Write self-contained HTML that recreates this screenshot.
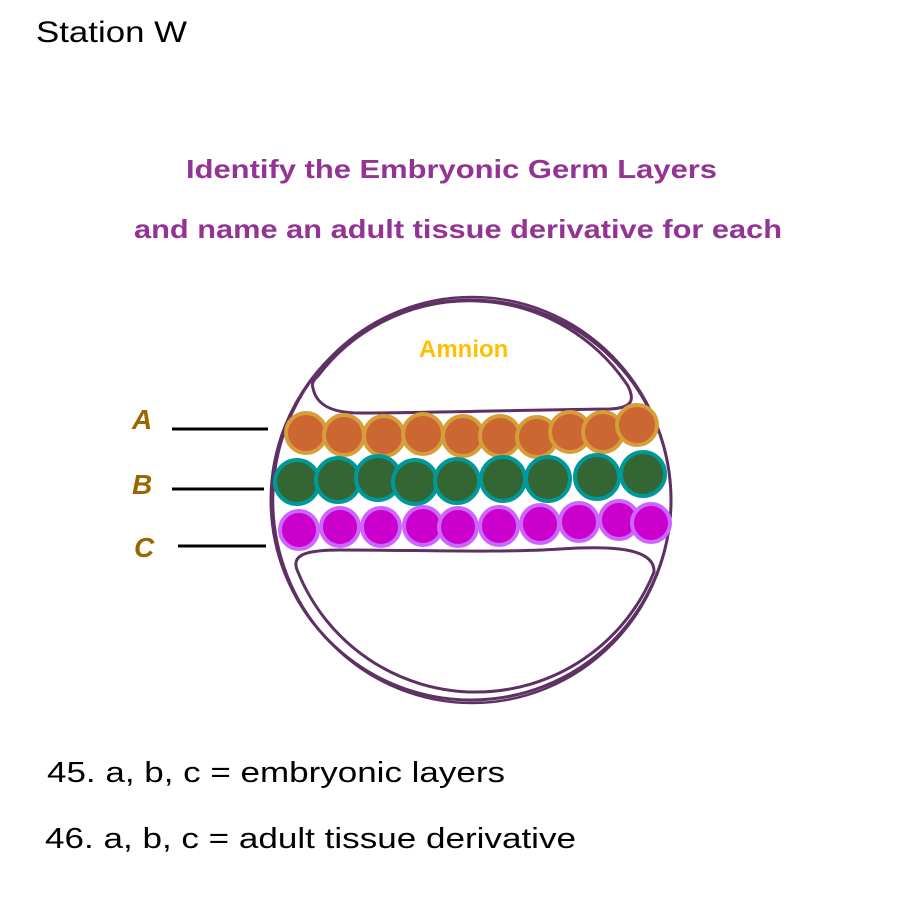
<!DOCTYPE html>
<html><head><meta charset="utf-8"><style>html,body{margin:0;padding:0;background:#fff}</style></head>
<body>
<svg width="900" height="900" viewBox="0 0 900 900" xmlns="http://www.w3.org/2000/svg">
<rect width="900" height="900" fill="#fff"/>
<text x="36" y="42" font-family="Liberation Sans, sans-serif" font-size="30" fill="#000" textLength="151" lengthAdjust="spacingAndGlyphs">Station W</text>
<g font-family="Liberation Sans, sans-serif" font-weight="bold" font-size="26" fill="#933393">
<text x="186" y="178" textLength="531" lengthAdjust="spacingAndGlyphs">Identify the Embryonic Germ Layers</text>
<text x="134" y="238" textLength="648" lengthAdjust="spacingAndGlyphs">and name an adult tissue derivative for each</text>
</g>
<g fill="none" stroke="#5e3063" stroke-width="3">
<circle cx="471" cy="500" r="200"/>
<ellipse cx="472" cy="500" rx="199" ry="203" stroke-width="2.5"/>
<path d="M313,388 C311,383 314,380 318,376 A190,190 0 0 1 628,386 C636,402 630,408 610,409 C520,410 420,413 360,413 C330,413 316,404 313,388 Z"/>
<path d="M298,572 C290,555 305,550 340,550 C420,550 500,553 560,549 C620,545 655,550 654,572 A192,192 0 0 1 298,572 Z"/>
</g>
<text x="419" y="357" font-family="Liberation Sans, sans-serif" font-weight="bold" font-size="24" fill="#ffc000">Amnion</text>
<g fill="#cc6633" stroke="#d69e38" stroke-width="4">
<circle cx="306" cy="433" r="20"/><circle cx="344" cy="435" r="20"/><circle cx="384" cy="436" r="20"/><circle cx="423" cy="434" r="20"/><circle cx="463" cy="436" r="20"/><circle cx="500" cy="436" r="20"/><circle cx="537" cy="437" r="20"/><circle cx="570" cy="432" r="20"/><circle cx="603" cy="432" r="20"/><circle cx="637" cy="425" r="20"/>
</g>
<g fill="#336633" stroke="#009999" stroke-width="4">
<circle cx="297" cy="482" r="22"/><circle cx="338" cy="480" r="22"/><circle cx="378" cy="478" r="22"/><circle cx="415" cy="482" r="22"/><circle cx="457" cy="481" r="22"/><circle cx="503" cy="479" r="22"/><circle cx="548" cy="479" r="22"/><circle cx="597" cy="477" r="22"/><circle cx="643" cy="474" r="22"/>
</g>
<g fill="#cc00cc" stroke="#cc66ff" stroke-width="4">
<circle cx="299" cy="530" r="19"/><circle cx="340" cy="527" r="19"/><circle cx="381" cy="527" r="19"/><circle cx="423" cy="526" r="19"/><circle cx="458" cy="527" r="19"/><circle cx="499" cy="526" r="19"/><circle cx="540" cy="524" r="19"/><circle cx="579" cy="522" r="19"/><circle cx="619" cy="520" r="19"/><circle cx="651" cy="523" r="19"/>
</g>
<g stroke="#000" stroke-width="3">
<line x1="172" y1="429" x2="268" y2="429"/>
<line x1="172" y1="489" x2="264" y2="489"/>
<line x1="178" y1="546" x2="266" y2="546"/>
</g>
<g font-family="Liberation Sans, sans-serif" font-weight="bold" font-size="28" fill="#996600" font-style="italic">
<text x="132" y="429">A</text>
<text x="132" y="494">B</text>
<text x="134" y="557">C</text>
</g>
<g font-family="Liberation Sans, sans-serif" font-size="29" fill="#000">
<text x="47" y="782" textLength="458" lengthAdjust="spacingAndGlyphs">45. a, b, c = embryonic layers</text>
<text x="45" y="848" textLength="531" lengthAdjust="spacingAndGlyphs">46. a, b, c = adult tissue derivative</text>
</g>
</svg>
</body></html>
